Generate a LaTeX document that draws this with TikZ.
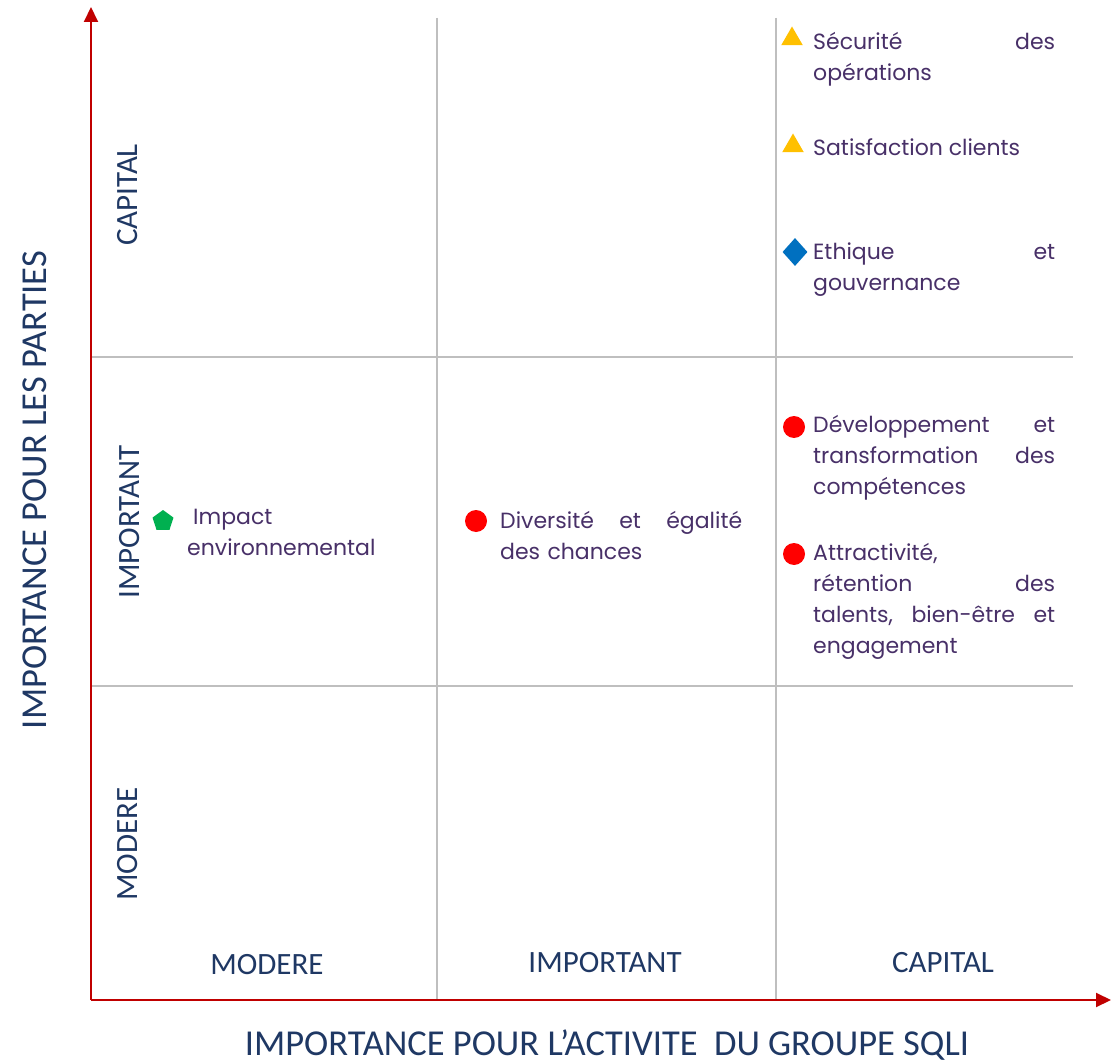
\documentclass[tikz,border=0pt]{standalone}
\usepackage{fontspec}
\setmainfont{Poppins}
\newfontfamily\calfont{Carlito}
\usetikzlibrary{arrows.meta,shapes.geometric}
\definecolor{axisred}{RGB}{192,0,0}
\definecolor{gridgray}{RGB}{191,191,191}
\definecolor{navy}{RGB}{31,56,100}
\definecolor{itemtext}{RGB}{72,48,104}
\definecolor{mkyellow}{RGB}{255,192,0}
\definecolor{mkblue}{RGB}{0,112,192}
\definecolor{mkred}{RGB}{255,0,0}
\definecolor{mkgreen}{RGB}{0,176,80}
\begin{document}
\begin{tikzpicture}[x=1pt,y=-1pt,
  axis/.style={draw=axisred,line width=2pt,-{Triangle[length=15pt,width=14pt]}},
  gridline/.style={draw=gridgray,line width=1.5pt},
  cat/.style={font=\calfont\fontsize{31}{36}\selectfont,text=navy,inner sep=0pt},
  title/.style={font=\calfont\fontsize{36.5}{42}\selectfont,text=navy,inner sep=0pt},
  item/.style={font=\fontsize{22}{31}\selectfont,text=itemtext,inner sep=0pt,anchor=base west,align=left},
  tri/.style={regular polygon,regular polygon sides=3,fill=mkyellow,minimum size=25pt,inner sep=0pt},
  dia/.style={diamond,fill=mkblue,minimum width=25pt,minimum height=28pt,inner sep=0pt},
  dot/.style={circle,fill=mkred,minimum size=22pt,inner sep=0pt},
  pent/.style={regular polygon,regular polygon sides=5,fill=mkgreen,minimum size=22pt,inner sep=0pt}]
\useasboundingbox (0,0) rectangle (1111,1064);
\fill[white] (0,0) rectangle (1111,1064);
% grid
\coordinate (v1t) at (437,18); \coordinate (v1b) at (437,1000);
\coordinate (v2t) at (776,18); \coordinate (v2b) at (776,1000);
\coordinate (h1l) at (91,357); \coordinate (h1r) at (1073,357);
\coordinate (h2l) at (91,686); \coordinate (h2r) at (1073,686);
\draw[gridline] (v1t) -- (v1b);
\draw[gridline] (v2t) -- (v2b);
\draw[gridline] (h1l) -- (h1r);
\draw[gridline] (h2l) -- (h2r);
% axes
\coordinate (O) at (91,1000);
\coordinate (ytip) at (91,7);
\coordinate (xtip) at (1111,1000);
\draw[axis] (O) -- (ytip);
\draw[axis] (O) -- (xtip);
% category labels
\node[cat,rotate=90] (yc) at (128,195) {CAPITAL};
\node[cat,rotate=90] (yi) at (130,522) {IMPORTANT};
\node[cat,rotate=90] (ym) at (128,844) {MODERE};
\node[cat] (xm) at (267,965) {MODERE};
\node[cat] (xi) at (605,963) {IMPORTANT};
\node[cat] (xc) at (943,963) {CAPITAL};
% titles
\node[title] (xt) at (607,1045) {IMPORTANCE POUR L’ACTIVITE\ \ DU GROUPE SQLI};
\node[title,rotate=90] (yt) at (35,490) {IMPORTANCE POUR LES PARTIES};
% markers
\node[tri] (m1) at (792,39) {};
\node[tri] (m2) at (793,146) {};
\node[dia] (m3) at (795,252) {};
\node[dot] (m4) at (794,427) {};
\node[dot] (m5) at (794,554) {};
\node[pent] (m6) at (163,521) {};
\node[dot] (m7) at (476,521) {};
% texts
\node[item,text width=242pt] (t1) at (813,50) {Sécurité\hfill des\\opérations};
\node[item] (t2) at (813,156) {Satisfaction clients};
\node[item,text width=242pt] (t3) at (813,260) {Ethique\hfill et\\gouvernance};
\node[item,text width=242pt] (t4) at (813,432) {Développement\hfill et\\transformation\hfill des\\compétences};
\node[item,text width=242pt] (t5) at (813,560) {Attractivité,\\rétention\hfill des\\talents,\hfill bien-être\hfill et\\engagement};
\node[item,text width=230pt] (t6) at (187,524) {\hspace{6pt}Impact\\environnemental};
\node[item,text width=242pt] (t7) at (500,528) {Diversité\hfill et\hfill égalité\\des chances};
\end{tikzpicture}
\end{document}
